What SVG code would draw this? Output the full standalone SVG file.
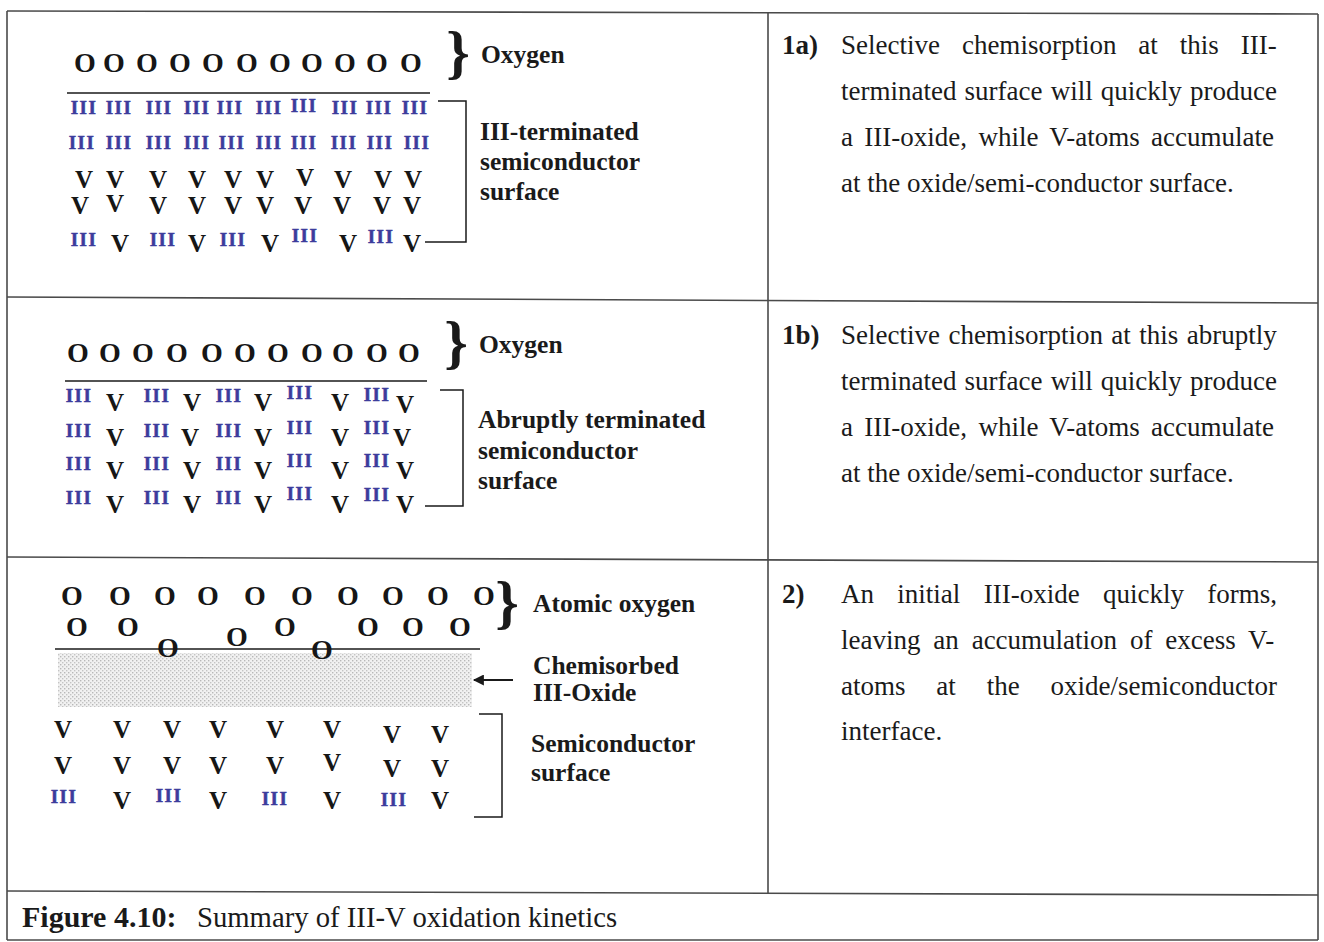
<svg xmlns="http://www.w3.org/2000/svg" width="1324" height="942" viewBox="0 0 1324 942">
  <style>
    .grid { stroke: #4a4a4a; stroke-width: 1.6; fill: none; }
    .o { font: bold 28px "Liberation Serif", serif; fill: #161616; text-anchor: middle; }
    .v { font: bold 25px "Liberation Serif", serif; fill: #161616; text-anchor: middle; }
    .iii { font: bold 19px "Liberation Serif", serif; fill: #3c3c9c; stroke: #3c3c9c; stroke-width: 0.5; letter-spacing: 1.5px; text-anchor: middle; }
    .lbl { font: bold 25.5px "Liberation Serif", serif; fill: #1a1a1a; }
    .brace { font: bold 60px "Liberation Serif", serif; fill: #1a1a1a; text-anchor: middle; }
    .body { font: 27px "Liberation Serif", serif; fill: #1a1a1a; }
    .num { font: bold 27px "Liberation Serif", serif; fill: #1a1a1a; }
    .surf { stroke: #1a1a1a; stroke-width: 1.6; fill: none; }
    .bracket { stroke: #1a1a1a; stroke-width: 1.5; fill: none; }
    .cap-b { font: bold 30px "Liberation Serif", serif; fill: #1a1a1a; }
    .cap { font: 28.7px "Liberation Serif", serif; fill: #1a1a1a; }
  </style>
  <defs>
    <pattern id="stipple" width="4" height="4" patternUnits="userSpaceOnUse">
      <rect width="4" height="4" fill="#f1f1f1"/>
      <rect x="0" y="0" width="1.4" height="1.4" fill="#b8b8b8"/>
      <rect x="2" y="2" width="1.4" height="1.4" fill="#c4c4c4"/>
    </pattern>
    <marker id="head" viewBox="0 0 10 10" refX="9" refY="5" markerWidth="7" markerHeight="5" markerUnits="strokeWidth" orient="auto">
      <path d="M0,0 L10,5 L0,10 z" fill="#1a1a1a"/>
    </marker>
  </defs>

  <rect width="1324" height="942" fill="#ffffff"/>

  <!-- table frame -->
  <g id="table" class="grid">
    <line x1="7" y1="11" x2="1318" y2="14"/>
    <line x1="7" y1="11" x2="7" y2="940"/>
    <line x1="1318" y1="14" x2="1318" y2="940"/>
    <line x1="768" y1="12" x2="768" y2="893"/>
    <line x1="7" y1="297" x2="1318" y2="303"/>
    <line x1="7" y1="557" x2="1318" y2="562"/>
    <line x1="7" y1="891" x2="1318" y2="895"/>
    <line x1="7" y1="940" x2="1318" y2="940"/>
  </g>

  <!-- panel 1a: III-terminated surface -->
  <g id="panel1">
    <g class="o">
      <text x="85" y="72">O</text><text x="114" y="72">O</text><text x="147" y="72">O</text>
      <text x="180" y="72">O</text><text x="213" y="72">O</text><text x="247" y="72">O</text>
      <text x="280" y="72">O</text><text x="312" y="72">O</text><text x="345" y="72">O</text>
      <text x="377" y="72">O</text><text x="411" y="72">O</text>
    </g>
    <line class="surf" x1="67" y1="93" x2="430" y2="93"/>
    <g class="iii">
      <text x="84" y="114">III</text><text x="119" y="114">III</text><text x="159" y="114">III</text>
      <text x="197" y="114">III</text><text x="230" y="114">III</text><text x="269" y="114">III</text>
      <text x="304" y="112">III</text><text x="345" y="114">III</text><text x="379" y="114">III</text>
      <text x="415" y="114">III</text>
      <text x="82" y="149">III</text><text x="119" y="149">III</text><text x="159" y="149">III</text>
      <text x="197" y="149">III</text><text x="232" y="149">III</text><text x="269" y="149">III</text>
      <text x="304" y="149">III</text><text x="344" y="149">III</text><text x="380" y="149">III</text>
      <text x="417" y="149">III</text>
      <text x="84" y="246">III</text><text x="163" y="246">III</text><text x="233" y="246">III</text>
      <text x="305" y="242">III</text><text x="381" y="243">III</text>
    </g>
    <g class="v">
      <text x="84" y="188">V</text><text x="115" y="188">V</text><text x="158" y="188">V</text>
      <text x="197" y="188">V</text><text x="233" y="188">V</text><text x="265" y="188">V</text>
      <text x="305" y="186">V</text><text x="343" y="188">V</text><text x="383" y="188">V</text>
      <text x="413" y="188">V</text>
      <text x="80" y="214">V</text><text x="115" y="212">V</text><text x="158" y="214">V</text>
      <text x="197" y="214">V</text><text x="233" y="214">V</text><text x="265" y="214">V</text>
      <text x="303" y="214">V</text><text x="342" y="214">V</text><text x="382" y="214">V</text>
      <text x="412" y="214">V</text>
      <text x="120" y="252">V</text><text x="197" y="252">V</text><text x="270" y="252">V</text>
      <text x="348" y="252">V</text><text x="412" y="252">V</text>
    </g>
    <text class="brace" x="458" y="72">}</text>
    <text class="lbl" x="481" y="63">Oxygen</text>
    <text class="lbl" x="480" y="140">III-terminated</text>
    <text class="lbl" x="480" y="170">semiconductor</text>
    <text class="lbl" x="480" y="200">surface</text>
  </g>

  <!-- panel 1b: abruptly terminated surface -->
  <g id="panel2">
    <g class="o">
      <text x="78" y="362">O</text><text x="110" y="362">O</text><text x="143" y="362">O</text>
      <text x="177" y="362">O</text><text x="212" y="362">O</text><text x="245" y="362">O</text>
      <text x="278" y="362">O</text><text x="312" y="362">O</text><text x="343" y="362">O</text>
      <text x="377" y="362">O</text><text x="409" y="362">O</text>
    </g>
    <line class="surf" x1="65" y1="381" x2="427" y2="381"/>
    <g class="iii">
      <text x="79" y="402">III</text><text x="157" y="402">III</text><text x="229" y="402">III</text>
      <text x="300" y="399">III</text><text x="377" y="401">III</text>
      <text x="79" y="437">III</text><text x="157" y="437">III</text><text x="229" y="437">III</text>
      <text x="300" y="434">III</text><text x="377" y="434">III</text>
      <text x="79" y="470">III</text><text x="157" y="470">III</text><text x="229" y="470">III</text>
      <text x="300" y="467">III</text><text x="377" y="467">III</text>
      <text x="79" y="504">III</text><text x="157" y="504">III</text><text x="229" y="504">III</text>
      <text x="300" y="500">III</text><text x="377" y="501">III</text>
    </g>
    <g class="v">
      <text x="115" y="411">V</text><text x="192" y="411">V</text><text x="263" y="411">V</text>
      <text x="340" y="411">V</text><text x="405" y="413">V</text>
      <text x="115" y="446">V</text><text x="190" y="446">V</text><text x="263" y="446">V</text>
      <text x="340" y="446">V</text><text x="402" y="446">V</text>
      <text x="115" y="479">V</text><text x="192" y="479">V</text><text x="263" y="479">V</text>
      <text x="340" y="479">V</text><text x="405" y="479">V</text>
      <text x="115" y="513">V</text><text x="192" y="513">V</text><text x="263" y="513">V</text>
      <text x="340" y="513">V</text><text x="405" y="513">V</text>
    </g>
    <text class="brace" x="456" y="362">}</text>
    <text class="lbl" x="479" y="353">Oxygen</text>
    <text class="lbl" x="478" y="428">Abruptly terminated</text>
    <text class="lbl" x="478" y="459">semiconductor</text>
    <text class="lbl" x="478" y="489">surface</text>
  </g>

  <!-- panel 2: oxide formation -->
  <g id="panel3">
    <rect x="58" y="653" width="414" height="54" fill="url(#stipple)"/>
    <g class="o">
      <text x="72" y="605">O</text><text x="120" y="605">O</text><text x="165" y="605">O</text>
      <text x="208" y="605">O</text><text x="255" y="605">O</text><text x="302" y="605">O</text>
      <text x="348" y="605">O</text><text x="393" y="605">O</text><text x="438" y="605">O</text>
      <text x="484" y="605">O</text>
      <text x="77" y="636">O</text><text x="128" y="636">O</text><text x="237" y="646">O</text>
      <text x="285" y="636">O</text><text x="368" y="636">O</text><text x="413" y="636">O</text>
      <text x="460" y="636">O</text>
    </g>
    <line class="surf" x1="55" y1="649" x2="480" y2="649"/>
    <g class="o">
      <text x="168" y="657">O</text><text x="322" y="659">O</text>
    </g>
    <g class="v">
      <text x="63" y="738">V</text><text x="122" y="738">V</text><text x="172" y="738">V</text>
      <text x="218" y="738">V</text><text x="275" y="738">V</text><text x="332" y="738">V</text>
      <text x="392" y="743">V</text><text x="440" y="743">V</text>
      <text x="63" y="774">V</text><text x="122" y="774">V</text><text x="172" y="774">V</text>
      <text x="218" y="774">V</text><text x="275" y="774">V</text><text x="332" y="771">V</text>
      <text x="392" y="777">V</text><text x="440" y="777">V</text>
      <text x="122" y="809">V</text><text x="218" y="809">V</text><text x="332" y="809">V</text>
      <text x="440" y="809">V</text>
    </g>
    <g class="iii">
      <text x="64" y="803">III</text><text x="169" y="802">III</text><text x="275" y="805">III</text>
      <text x="394" y="806">III</text>
    </g>
    <text class="brace" x="507" y="622">}</text>
    <text class="lbl" x="533" y="612">Atomic oxygen</text>
    <text class="lbl" x="533" y="674">Chemisorbed</text>
    <text class="lbl" x="533" y="701">III-Oxide</text>
    <text class="lbl" x="531" y="752">Semiconductor</text>
    <text class="lbl" x="531" y="781">surface</text>
  </g>

  <!-- brackets and pointer -->
  <g id="connectors">
    <path class="bracket" d="M438,101 H466 V242 H425"/>
    <path class="bracket" d="M440,390 H463 V506 H425"/>
    <path class="bracket" d="M479,714 H502 V817 H474"/>
    <line x1="513" y1="680" x2="474" y2="680" stroke="#1a1a1a" stroke-width="2.2" marker-end="url(#head)"/>
  </g>

  <!-- descriptions -->
  <g id="text1a">
    <text class="num" x="782" y="54">1a)</text>
    <text class="body" x="841" y="54" word-spacing="15.2">Selective chemisorption at this III-</text>
    <text class="body" x="841" y="100" word-spacing="1.4">terminated surface will quickly produce</text>
    <text class="body" x="841" y="146" word-spacing="4.6">a III-oxide, while V-atoms accumulate</text>
    <text class="body" x="841" y="192">at the oxide/semi-conductor surface.</text>
  </g>
  <g id="text1b">
    <text class="num" x="782" y="344">1b)</text>
    <text class="body" x="841" y="344" word-spacing="1.7">Selective chemisorption at this abruptly</text>
    <text class="body" x="841" y="390" word-spacing="1.4">terminated surface will quickly produce</text>
    <text class="body" x="841" y="436" word-spacing="4.6">a III-oxide, while V-atoms accumulate</text>
    <text class="body" x="841" y="482">at the oxide/semi-conductor surface.</text>
  </g>
  <g id="text2">
    <text class="num" x="782" y="603">2)</text>
    <text class="body" x="841" y="603" word-spacing="16.6">An initial III-oxide quickly forms,</text>
    <text class="body" x="841" y="649" word-spacing="6.1">leaving an accumulation of excess V-</text>
    <text class="body" x="841" y="695" word-spacing="24.1">atoms at the oxide/semiconductor</text>
    <text class="body" x="841" y="740">interface.</text>
  </g>

  <g id="caption">
    <text class="cap-b" x="22" y="927">Figure 4.10:</text>
    <text class="cap" x="197" y="927">Summary of III-V oxidation kinetics</text>
  </g>
</svg>
